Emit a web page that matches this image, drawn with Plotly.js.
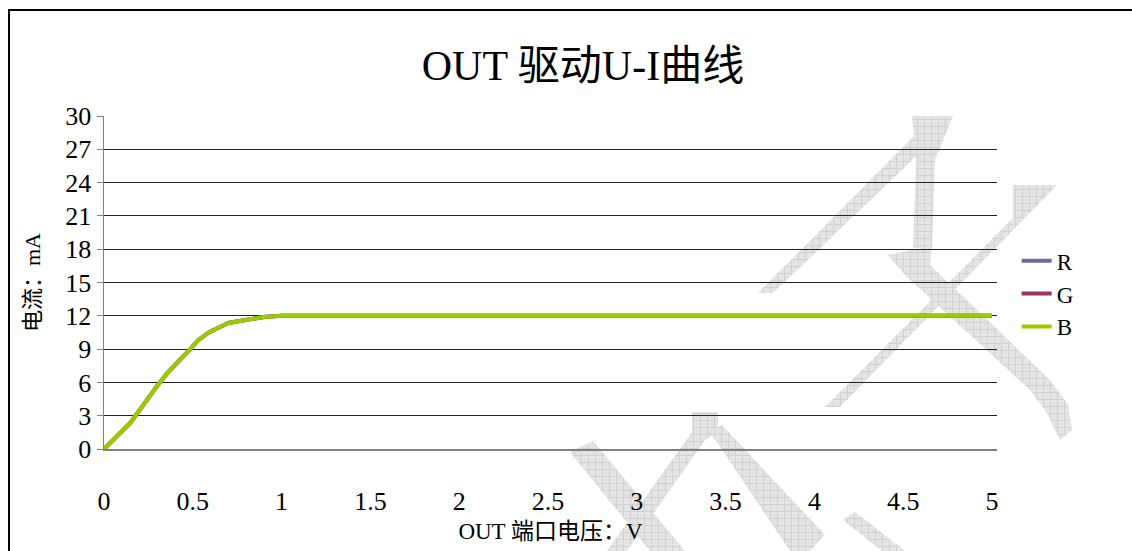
<!DOCTYPE html>
<html>
<head>
<meta charset="utf-8">
<script src="https://cdn.plot.ly/plotly-3.0.1.min.js"></script>
<style>
  html, body { margin: 0; padding: 0; background: #fff; }
  #wrap { position: relative; width: 1132px; height: 551px; overflow: hidden; }
  #frame { position: absolute; left: 8px; top: 9px; width: 1200px; height: 700px;
           border-top: 2px solid #000; border-left: 2px solid #000; }
  #wm { position: absolute; left: 0; top: 0; }
  #chart { position: absolute; left: 0; top: 0; width: 1132px; height: 551px; }
</style>
</head>
<body>
<div id="wrap">
  <div id="frame"></div>
  <svg id="wm" width="1132" height="551">
    <defs>
      <pattern id="chk" width="7" height="7" patternUnits="userSpaceOnUse">
        <rect width="7" height="7" fill="#e4e4e4"/>
        <path d="M0 0.5 H7 M0.5 0 V7" stroke="#d2d2d2" stroke-width="1"/>
      </pattern>
    </defs>
    <g fill="url(#chk)">
      <polygon points="758,293 773,293 925,148 918,132"/>
      <polygon points="912,116 953,116 935,160 932,248 913,248 916,160"/>
      <polygon points="1013,185 1057,185 840,407 825,407 1013,218"/>
      <polygon points="888,255 932,246 930,265 1050,380 1068,405 1072,430 1060,440 1045,410 1030,390 905,275"/>
      <polygon points="570,452 593,441 685,551 650,551"/>
      <polygon points="692,412 718,412 718,432 705,440 627,551 607,551 692,432"/>
      <polygon points="710,432 722,425 825,535 810,551 790,551"/>
      <polygon points="843,520 855,512 905,551 882,551"/>
    </g>
  </svg>
  <div id="chart"></div>
</div>
<script>
// Data
const voltage = [0, 0.15, 0.3, 0.36, 0.48, 0.53, 0.59, 0.7, 0.9, 1.0, 1.5, 2, 2.5, 3, 3.5, 4, 4.5, 5];
const currentR = [0, 2.4, 5.7, 6.9, 8.9, 9.8, 10.5, 11.35, 11.9, 12, 12, 12, 12, 12, 12, 12, 12, 12];
const currentG = [0, 2.4, 5.7, 6.9, 8.9, 9.8, 10.5, 11.35, 11.9, 12, 12, 12, 12, 12, 12, 12, 12, 12];
const currentB = [0, 2.4, 5.7, 6.9, 8.9, 9.8, 10.5, 11.35, 11.9, 12, 12, 12, 12, 12, 12, 12, 12, 12];
const seriesNames = ['R', 'G', 'B'];
const seriesColors = ['#6b6b9b', '#993366', '#99cc00'];
const xTickVals = [0, 0.5, 1, 1.5, 2, 2.5, 3, 3.5, 4, 4.5, 5];
const xTickText = ['0', '0.5', '1', '1.5', '2', '2.5', '3', '3.5', '4', '4.5', '5'];
const yTickVals = [0, 3, 6, 9, 12, 15, 18, 21, 24, 27, 30];

const FONT = '"Liberation Serif", "Noto Sans CJK SC", serif';
const seriesData = [currentR, currentG, currentB];

const traces = seriesData.map((ys, i) => ({
  x: voltage, y: ys, type: 'scatter', mode: 'lines', name: seriesNames[i],
  line: { color: seriesColors[i], width: 4 }
}));

const layout = {
  width: 1132, height: 551,
  margin: { l: 104, r: 135, t: 116, b: 102 },
  paper_bgcolor: 'rgba(0,0,0,0)', plot_bgcolor: 'rgba(0,0,0,0)',
  font: { family: FONT, color: '#000' },
  title: { text: 'OUT 驱动U-I曲线', font: { size: 42, family: FONT, color: '#000' },
           x: 0.515, xanchor: 'center', y: 0.882, yanchor: 'middle' },
  xaxis: {
    range: [0, 5.028], tickvals: xTickVals, ticktext: xTickText,
    showgrid: false, zeroline: false, showline: true, linecolor: '#808080', linewidth: 1.5,
    ticks: 'outside', ticklen: 28, tickcolor: 'rgba(0,0,0,0)',
    tickfont: { size: 26, family: FONT },
    title: { text: 'OUT 端口电压：V', font: { size: 23, family: FONT }, standoff: 8 }
  },
  yaxis: {
    range: [0, 30], tickvals: yTickVals,
    showgrid: true, gridcolor: '#222', gridwidth: 1, zeroline: false,
    showline: true, linecolor: '#808080', linewidth: 1.5,
    ticks: 'outside', ticklen: 6, tickcolor: '#808080',
    tickfont: { size: 26, family: FONT },
    title: { text: '电流：mA', font: { size: 22, family: FONT }, standoff: 18 }
  },
  legend: { x: 1.022, xanchor: 'left', y: 0.63, yanchor: 'top',
            font: { size: 23, family: FONT }, bgcolor: 'rgba(0,0,0,0)', tracegroupgap: 0 },
  showlegend: true
};

Plotly.newPlot('chart', traces, layout, { displayModeBar: false, staticPlot: true });
</script>
</body>
</html>
